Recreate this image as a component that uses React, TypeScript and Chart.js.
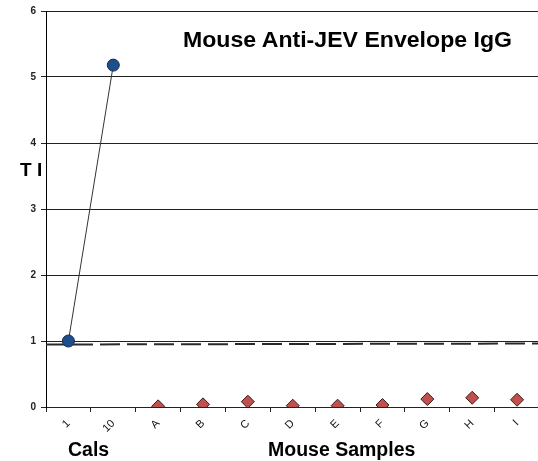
import React, { useEffect, useRef } from "react";
import Chart from "chart.js/auto";

const categories = ["1", "10", "A", "B", "C", "D", "E", "F", "G", "H", "I"];
const calValues = [1.0, 5.18, null, null, null, null, null, null, null, null, null];
const sampleValues = [null, null, 0.01, 0.04, 0.08, 0.02, 0.02, 0.03, 0.12, 0.14, 0.11];
const cutoffX = [0, 1];
const cutoffValues = [0.947, 0.962];
const yMin = 0;
const yMax = 6;
const titleText = "Mouse Anti-JEV Envelope IgG";
const yTitle = "T I";
const calsLabel = "Cals";
const samplesLabel = "Mouse Samples";

const FONT = "'Liberation Sans', Arial, sans-serif";

export default function App() {
  const ref = useRef<HTMLCanvasElement | null>(null);

  useEffect(() => {
    if (!ref.current) return;
    const chart = new Chart(ref.current, {
      type: "line",
      data: {
        labels: categories,
        datasets: [
          {
            label: "Cals",
            data: calValues,
            borderColor: "#333333",
            borderWidth: 1,
            pointStyle: "circle",
            pointRadius: 6,
            pointBackgroundColor: "#1f4e8c",
            pointBorderColor: "#0f2a4e",
            pointBorderWidth: 1,
            showLine: true,
            order: 2,
          },
          {
            label: "Samples",
            data: sampleValues,
            showLine: false,
            pointStyle: "rectRot",
            pointRadius: 6.5,
            pointBackgroundColor: "#c0504d",
            pointBorderColor: "#3d1a1a",
            pointBorderWidth: 1,
            order: 1,
          },
          {
            label: "Cutoff",
            data: cutoffX.map((x, i) => ({ x, y: cutoffValues[i] })) as any,
            xAxisID: "x2",
            borderColor: "#2a2a2a",
            borderWidth: 2,
            borderDash: [20, 7],
            pointRadius: 0,
            order: 3,
          },
        ],
      },
      options: {
        responsive: false,
        animation: false,
        layout: { padding: { top: 10, right: 0, left: 0, bottom: 0 } },
        plugins: {
          legend: { display: false },
          tooltip: { enabled: false },
          title: { display: false },
        },
        scales: {
          x: {
            type: "category",
            offset: true,
            grid: {
              offset: true,
              drawOnChartArea: false,
              drawTicks: true,
              tickLength: 5,
              color: "#222222",
            },
            border: { display: true, color: "#222222", width: 1 },
            ticks: {
              maxRotation: 45,
              minRotation: 45,
              color: "#111111",
              font: { family: FONT, size: 11 },
              padding: 5,
            },
            afterFit: (scale: any) => {
              scale.height = 54;
            },
          },
          x2: {
            type: "linear",
            display: false,
            min: 0,
            max: 1,
          },
          y: {
            min: yMin,
            max: yMax,
            ticks: {
              stepSize: 1,
              color: "#222222",
              font: { family: FONT, size: 10, weight: "bold" },
              padding: 5,
            },
            grid: {
              color: "#222222",
              lineWidth: 1,
              tickLength: 5,
            },
            border: { display: true, color: "#000000", width: 1 },
            afterFit: (scale: any) => {
              scale.width = 46;
            },
          },
        },
      },
    });
    return () => chart.destroy();
  }, []);

  const textBase: React.CSSProperties = {
    position: "absolute",
    fontFamily: FONT,
    fontWeight: "bold",
    color: "#000",
    whiteSpace: "nowrap",
  };

  return (
    <div
      style={{
        position: "fixed",
        left: 0,
        top: 0,
        width: 538,
        height: 461,
        overflow: "hidden",
        background: "#fff",
      }}
    >
      <canvas ref={ref} width={547} height={461} style={{ position: "absolute", left: 0, top: 0 }} />
      <div
        style={{
          ...textBase,
          left: 183,
          top: 29,
          fontSize: 22,
          lineHeight: "22px",
          transform: "scaleX(1.05)",
          transformOrigin: "left top",
        }}
      >
        {titleText}
      </div>
      <div style={{ ...textBase, left: 20, top: 160, fontSize: 19, lineHeight: "19px" }}>{yTitle}</div>
      <div style={{ ...textBase, left: 68, top: 440, fontSize: 19.5, lineHeight: "19px" }}>{calsLabel}</div>
      <div style={{ ...textBase, left: 268, top: 440, fontSize: 19.5, lineHeight: "19px" }}>{samplesLabel}</div>
    </div>
  );
}
